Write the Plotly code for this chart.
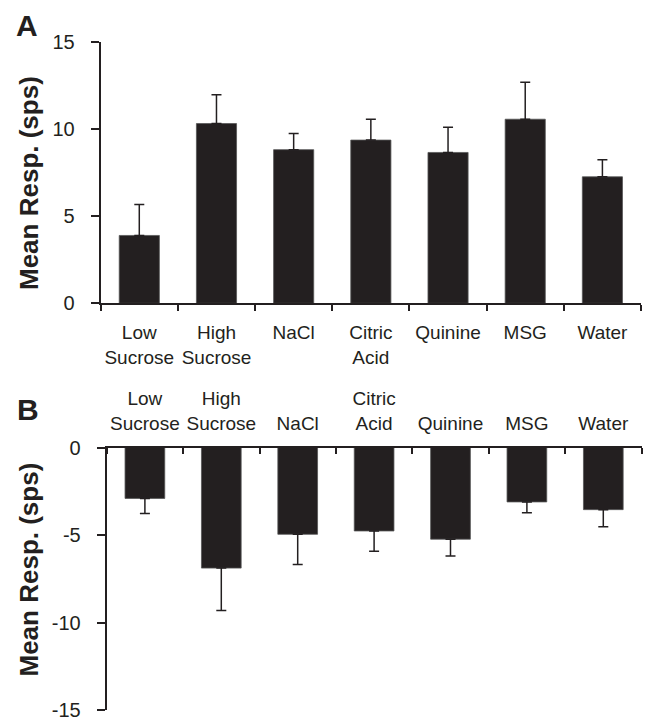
import numpy as np
import plotly.graph_objects as go

categories = ["Low Sucrose", "High Sucrose", "NaCl", "Citric Acid", "Quinine", "MSG", "Water"]
tick_labels = ["Low<br>Sucrose", "High<br>Sucrose", "NaCl", "Citric<br>Acid", "Quinine", "MSG", "Water"]

resp_a = [3.9, 10.33, 8.83, 9.38, 8.67, 10.58, 7.27]
err_a = [1.78, 1.65, 0.93, 1.2, 1.45, 2.13, 0.98]

resp_b = [-2.91, -6.89, -4.96, -4.77, -5.24, -3.11, -3.55]
err_b = [0.86, 2.43, 1.72, 1.16, 0.96, 0.62, 0.98]

yticks_a = [0, 5, 10, 15]
yticks_b = [-15, -10, -5, 0]

W, H = 645, 721
INK = "#231f20"
FONT = "Liberation Sans, Arial, sans-serif"

x = np.arange(len(categories))

fig = go.Figure()
fig.add_trace(go.Bar(
    x=x, y=resp_a, width=0.52,
    marker=dict(color=INK, line=dict(color="#555555", width=0.8)),
    error_y=dict(type="data", symmetric=False, array=err_a, arrayminus=[0] * len(err_a),
                 color=INK, thickness=1.5, width=5),
    xaxis="x", yaxis="y", showlegend=False,
))
fig.add_trace(go.Bar(
    x=x, y=resp_b, width=0.52,
    marker=dict(color=INK, line=dict(color="#555555", width=0.8)),
    error_y=dict(type="data", symmetric=False, array=[0] * len(err_b), arrayminus=err_b,
                 color=INK, thickness=1.5, width=5),
    xaxis="x2", yaxis="y2", showlegend=False,
))

def px_x(p):
    return p / W

def px_y(p):
    return 1 - p / H

tickfont = dict(family=FONT, size=20, color=INK)
catfont = dict(family=FONT, size=19, color=INK)

common_x = dict(
    range=[-0.5, len(categories) - 0.5], tickmode="array", tickvals=x, ticktext=tick_labels,
    ticks="", showline=True, linecolor=INK, linewidth=2, showgrid=False, zeroline=False,
    tickfont=catfont, fixedrange=True,
    minor=dict(tickmode="linear", tick0=-0.5, dtick=1, ticklen=6, tickwidth=2,
               tickcolor=INK, showgrid=False),
)
common_y = dict(
    showline=True, linecolor=INK, linewidth=2, showgrid=False, zeroline=False,
    ticks="outside", ticklen=8, tickwidth=2, tickcolor=INK, tickfont=tickfont,
    tickmode="array", fixedrange=True,
)

fig.update_layout(
    width=W, height=H,
    margin=dict(l=0, r=0, t=0, b=0, autoexpand=False),
    paper_bgcolor="white", plot_bgcolor="white",
    bargap=0.48,
    xaxis=dict(**common_x, domain=[px_x(100.7), px_x(641)], anchor="y", side="bottom",
               ticklabelstandoff=11),
    yaxis=dict(**common_y, domain=[px_y(303.3), px_y(42.3)], anchor="x", range=[0, 15],
               tickvals=yticks_a, ticktext=[str(v) for v in yticks_a], ticklabelstandoff=12),
    xaxis2=dict(**common_x, domain=[px_x(106.7), px_x(641.5)], anchor="y2", side="top",
                ticklabelstandoff=8),
    yaxis2=dict(**common_y, domain=[px_y(710), px_y(447.5)], anchor="x2", range=[-15, 0],
                tickvals=yticks_b, ticktext=[str(v) for v in yticks_b], ticklabelstandoff=12),
)
fig.update_layout(xaxis2_minor=dict(ticks="inside"), xaxis_minor=dict(ticks="outside"))

title_font = dict(family=FONT, size=26, color=INK, weight="bold")
fig.add_annotation(text="Mean Resp. (sps)", textangle=-90, xref="paper", yref="paper",
                   x=px_x(28.5), y=px_y(183.5), xanchor="center", yanchor="middle",
                   showarrow=False, font=title_font)
fig.add_annotation(text="Mean Resp. (sps)", textangle=-90, xref="paper", yref="paper",
                   x=px_x(28.5), y=px_y(570), xanchor="center", yanchor="middle",
                   showarrow=False, font=title_font)

panel_font = dict(family=FONT, size=30, color=INK, weight="bold")
fig.add_annotation(text="A", xref="paper", yref="paper", x=px_x(27), y=px_y(26),
                   xanchor="center", yanchor="middle", showarrow=False, font=panel_font)
fig.add_annotation(text="B", xref="paper", yref="paper", x=px_x(28), y=px_y(409),
                   xanchor="center", yanchor="middle", showarrow=False, font=panel_font)

fig.write_html("out.html")
